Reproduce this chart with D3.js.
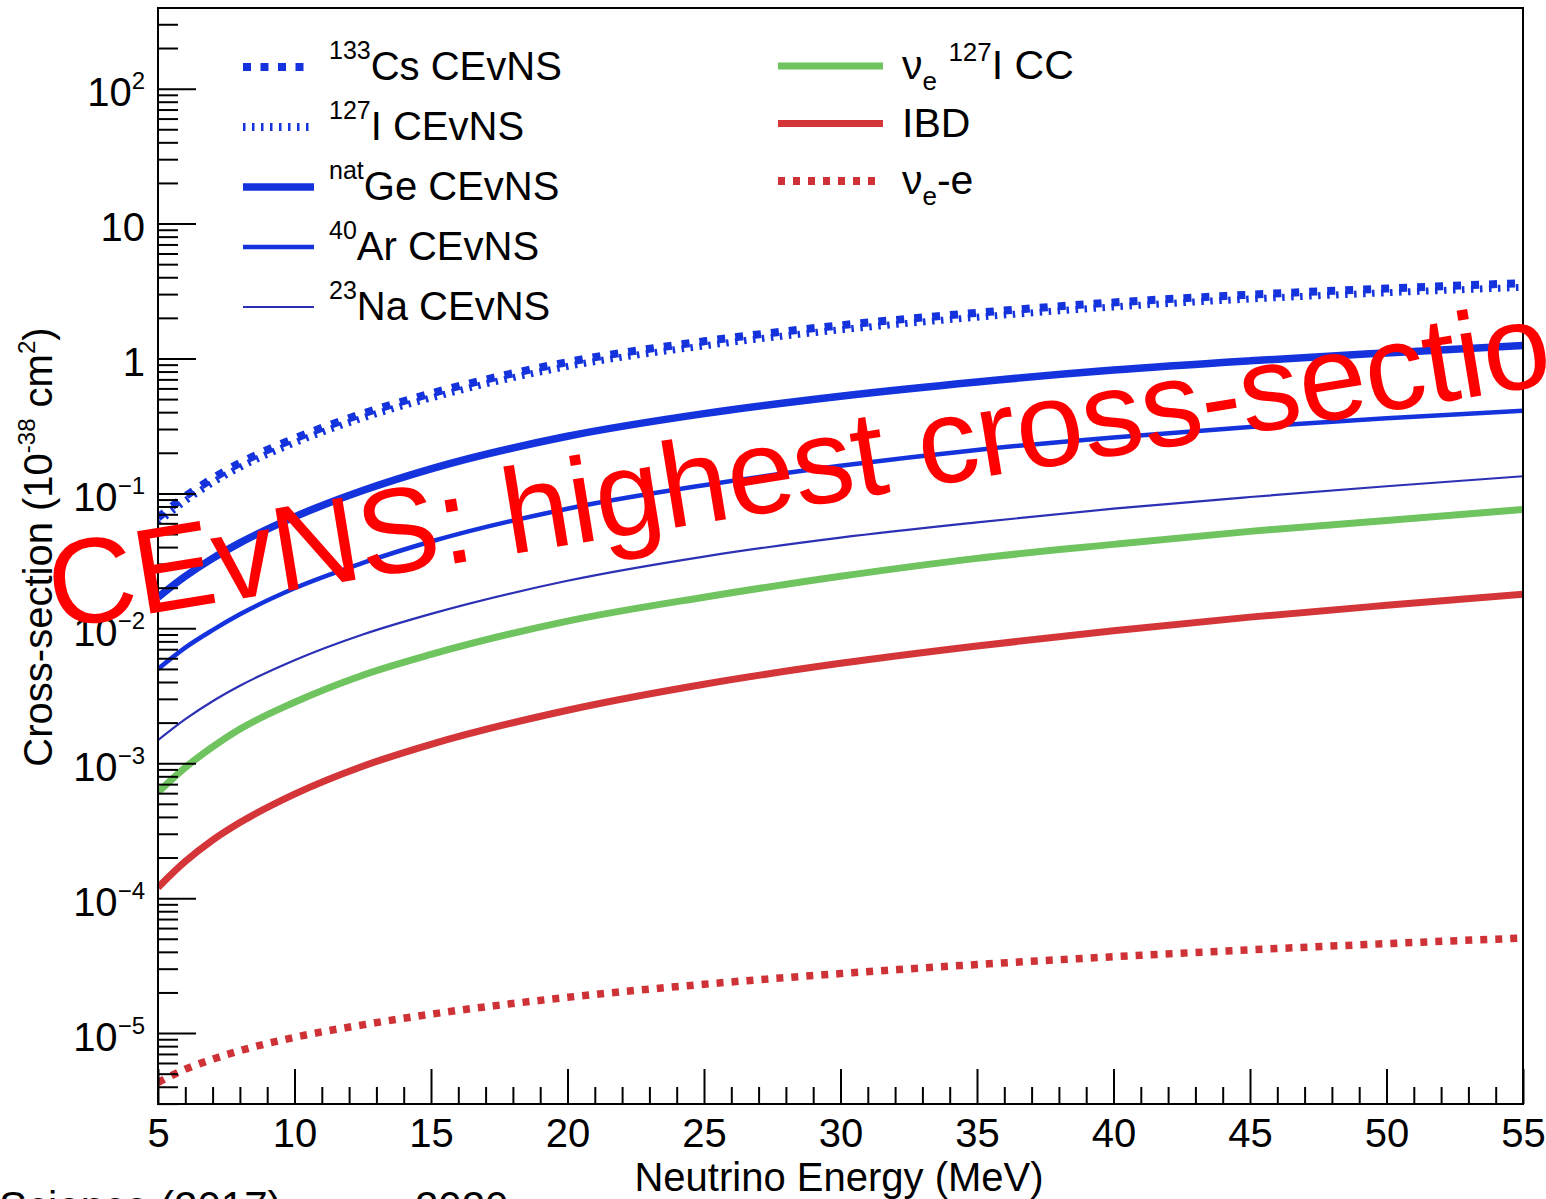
<!DOCTYPE html>
<html><head><meta charset="utf-8">
<script src="https://cdn.jsdelivr.net/npm/d3@7"></script>
<style>
body{margin:0;background:#fff}
svg{display:block}
text{font-family:"Liberation Sans",Arial,Helvetica,sans-serif;fill:#000}
</style>
</head><body>
<svg id="chart" width="1546" height="1199"></svg>
<script>
// ---------------- data ----------------
const energy   = [5, 6, 7, 8, 10, 12.5, 15, 20, 25, 30, 35, 40, 45, 50, 55];
const csCEvNS  = [0.066, 0.095, 0.129, 0.168, 0.255, 0.39, 0.55, 0.94, 1.34, 1.76, 2.18, 2.6, 2.97, 3.3, 3.62];
const iCEvNS   = [0.061, 0.088, 0.12, 0.156, 0.237, 0.362, 0.51, 0.873, 1.24, 1.63, 2.02, 2.41, 2.76, 3.07, 3.37];
const geCEvNS  = [0.017, 0.0243, 0.033, 0.043, 0.067, 0.105, 0.152, 0.265, 0.39, 0.525, 0.67, 0.82, 0.96, 1.1, 1.25];
const arCEvNS  = [0.0050, 0.0072, 0.0097, 0.0127, 0.0198, 0.0305, 0.044, 0.077, 0.115, 0.16, 0.21, 0.26, 0.31, 0.36, 0.41];
const naCEvNS  = [0.00148, 0.00212, 0.00288, 0.00375, 0.0058, 0.009, 0.0128, 0.0225, 0.034, 0.047, 0.061, 0.077, 0.094, 0.113, 0.134];
const nueICC   = [0.00061, 0.00093, 0.00132, 0.00179, 0.00283, 0.00449, 0.0064, 0.0113, 0.017, 0.0243, 0.033, 0.0419, 0.0523, 0.063, 0.076];
const ibd      = [0.00012, 0.000187, 0.000269, 0.000363, 0.00059, 0.00095, 0.00138, 0.00247, 0.00385, 0.0055, 0.0074, 0.0096, 0.0121, 0.0148, 0.0179];
const nueE     = [4.3e-6, 5.4e-6, 6.4e-6, 7.4e-6, 9.3e-6, 1.15e-5, 1.38e-5, 1.84e-5, 2.3e-5, 2.76e-5, 3.22e-5, 3.68e-5, 4.14e-5, 4.6e-5, 5.06e-5];

const xTickLabels    = [5, 10, 15, 20, 25, 30, 35, 40, 45, 50, 55];
const yTickExponents = [2, 1, 0, -1, -2, -3, -4, -5];

// ---------------- setup ----------------
const svg = d3.select('#chart');
const X0 = 158, X1 = 1523, Y0 = 8, Y1 = 1104;
const x = d3.scaleLinear().domain([5, 55]).range([X0, X1]);
const y = d3.scaleLog().domain([2.98e-6, 396]).range([Y1, Y0]);

const BLUE = '#1533dc', NAVY = '#2c30b4', GREEN = '#6fc460', RED = '#d43538', REDDOT = '#cf3236';

// text with super/subscripts; baseDy shifts the first glyph
function rich(sel, parts, size, supRaise, subDrop, small, baseDy) {
  let cur = -(baseDy || 0);
  parts.forEach(([t, k]) => {
    const target = k === 'sup' ? -supRaise : (k === 'sub' ? subDrop : 0);
    const d = target - cur;
    const ts = sel.append('tspan').text(t).attr('font-size', k === 'n' ? size : small);
    if (d !== 0) ts.attr('dy', d);
    cur = target;
  });
}

svg.append('defs').append('clipPath').attr('id', 'plotclip')
  .append('rect').attr('x', X0).attr('y', Y0).attr('width', X1 - X0).attr('height', Y1 - Y0);

// ---------------- curves ----------------
const series = [
  {vals: naCEvNS, color: NAVY,  w: 2.2, dash: null},
  {vals: arCEvNS, color: BLUE,  w: 4.5, dash: null},
  {vals: geCEvNS, color: BLUE,  w: 7.5, dash: null},
  {vals: nueICC,  color: GREEN, w: 7,   dash: null},
  {vals: ibd,     color: RED,   w: 7,   dash: null},
  {vals: nueE,    color: REDDOT,w: 7.5, dash: '7,8'},
  {vals: iCEvNS,  color: BLUE,  w: 7,   dash: '2.5,6.5'},
  {vals: csCEvNS, color: BLUE,  w: 8,   dash: '8,10'}
];
const line = d3.line().x(d => x(d[0])).y(d => y(d[1])).curve(d3.curveMonotoneX);
const cg = svg.append('g').attr('clip-path', 'url(#plotclip)');
series.forEach(s => {
  cg.append('path')
    .attr('d', line(energy.map((e, i) => [e, s.vals[i]])))
    .attr('fill', 'none').attr('stroke', s.color).attr('stroke-width', s.w)
    .attr('stroke-linecap', 'butt').attr('stroke-linejoin', 'round')
    .attr('stroke-dasharray', s.dash);
});

// ---------------- axes ----------------
const yMinor = [];
for (let k = -6; k <= 2; k++) for (let m = 2; m <= 9; m++) {
  const v = m * Math.pow(10, k);
  if (v >= 2.98e-6 && v <= 396) yMinor.push(v);
}
const yMajor = yTickExponents.map(k => Math.pow(10, k));

function styleAxis(g) {
  g.select('.domain').remove();
  g.selectAll('.tick line').attr('stroke', '#000').attr('stroke-width', 2);
}

svg.append('g').attr('transform', `translate(${X0},0)`)
  .call(d3.axisLeft(y).tickValues(yMinor).tickSize(-20).tickFormat(''))
  .call(styleAxis);
const yAx = svg.append('g').attr('transform', `translate(${X0},0)`)
  .call(d3.axisLeft(y).tickValues(yMajor).tickSize(-38).tickPadding(13).tickFormat(() => ''))
  .call(styleAxis);
yAx.selectAll('.tick text').each(function(d) {
  const k = Math.round(Math.log10(d));
  const t = d3.select(this).attr('font-size', 40).attr('font-family', null).attr('fill', '#000').attr('dy', null);
  t.text(null);
  let parts;
  if (k === 0) parts = [['1', 'n']];
  else if (k === 1) parts = [['10', 'n']];
  else parts = [['10', 'n'], [k < 0 ? '\u2212' + (-k) : String(k), 'sup']];
  rich(t, parts, 40, 17, 0, 24, 17);
});

const xMinor = d3.range(5, 56, 1).filter(v => v % 5 !== 0);
svg.append('g').attr('transform', `translate(0,${Y1})`)
  .call(d3.axisBottom(x).tickValues(xMinor).tickSize(-17).tickFormat(''))
  .call(styleAxis);
const xAx = svg.append('g').attr('transform', `translate(0,${Y1})`)
  .call(d3.axisBottom(x).tickValues(xTickLabels).tickSize(-35).tickPadding(15).tickFormat(d3.format('d')))
  .call(styleAxis);
xAx.selectAll('.tick text').attr('font-size', 40).attr('font-family', null).attr('fill', '#000');

// frame
svg.append('rect').attr('x', X0).attr('y', Y0).attr('width', X1 - X0).attr('height', Y1 - Y0)
  .attr('fill', 'none').attr('stroke', '#000').attr('stroke-width', 2);

// axis titles
svg.append('text').attr('x', 839).attr('y', 1191).attr('text-anchor', 'middle')
  .attr('font-size', 40).text('Neutrino Energy (MeV)');
const yt = svg.append('text').attr('transform', 'translate(52,547) rotate(-90)')
  .attr('text-anchor', 'middle').attr('font-size', 40);
rich(yt, [['Cross-section (10', 'n'], ['-38', 'sup'], [' cm', 'n'], ['2', 'sup'], [')', 'n']], 40, 17, 0, 24, 0);

// ---------------- legend ----------------
const legLeft = [
  {parts: [['133', 'sup'], ['Cs CEvNS', 'n']], color: BLUE, w: 8, dash: '8,9.5', x2: 306},
  {parts: [['127', 'sup'], ['I CEvNS', 'n']], color: BLUE, w: 8, dash: '2.5,6.5', x2: 311},
  {parts: [['nat', 'sup'], ['Ge CEvNS', 'n']], color: BLUE, w: 7.5, dash: null, x2: 314},
  {parts: [['40', 'sup'], ['Ar CEvNS', 'n']], color: BLUE, w: 4.5, dash: null, x2: 314},
  {parts: [['23', 'sup'], ['Na CEvNS', 'n']], color: NAVY, w: 2.2, dash: null, x2: 314}
];
legLeft.forEach((L, i) => {
  const ly = 67 + i * 60;
  svg.append('line').attr('x1', 243).attr('x2', L.x2).attr('y1', ly).attr('y2', ly)
    .attr('stroke', L.color).attr('stroke-width', L.w).attr('stroke-dasharray', L.dash);
  const t = svg.append('text').attr('x', 329).attr('y', ly + 13).attr('font-size', 40);
  rich(t, L.parts, 40, 21, 0, 25, 0);
});
const legRight = [
  {parts: [['\u03bd', 'n'], ['e', 'sub'], [' ', 'n'], ['127', 'sup'], ['I CC', 'n']], color: GREEN, w: 7, dash: null},
  {parts: [['IBD', 'n']], color: RED, w: 7, dash: null},
  {parts: [['\u03bd', 'n'], ['e', 'sub'], ['-e', 'n']], color: REDDOT, w: 8, dash: '7,8'}
];
legRight.forEach((L, i) => {
  const ly = 66 + i * 57.5;
  svg.append('line').attr('x1', 778).attr('x2', 883).attr('y1', ly).attr('y2', ly)
    .attr('stroke', L.color).attr('stroke-width', L.w).attr('stroke-dasharray', L.dash);
  const t = svg.append('text').attr('x', 902).attr('y', ly + 13).attr('font-size', 41);
  rich(t, L.parts, 41, 18, 11, 26, 0);
});

// ---------------- footer (cut off at the bottom edge) ----------------
svg.append('text').attr('x', -1).attr('y', 1221).attr('font-size', 42).text('Science (2017)');
svg.append('text').attr('x', 415).attr('y', 1221).attr('font-size', 42).text('2020');

// ---------------- overlay annotation ----------------
svg.append('text').attr('transform', 'translate(55,629) rotate(-9.3)')
  .attr('font-family', '"Noto Sans","Open Sans",sans-serif').attr('font-size', 121)
  .attr('letter-spacing', -0.5)
  .style('fill', '#ff0000').text('CEvNS: highest cross-section');
</script>
</body></html>
